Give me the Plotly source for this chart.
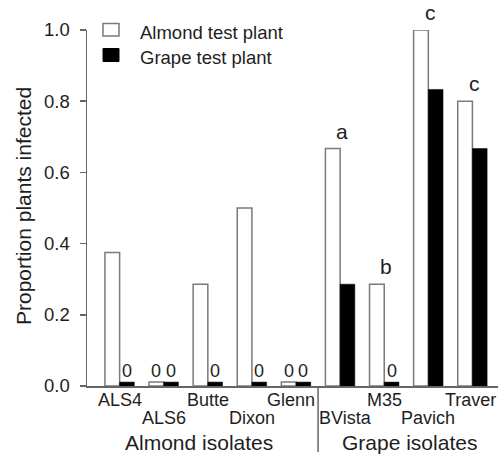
import plotly.graph_objects as go

# ---- data ----
categories = ['ALS4', 'ALS6', 'Butte', 'Dixon', 'Glenn', 'BVista', 'M35', 'Pavich', 'Traver']
almond_values = [0.375, 0.0, 0.286, 0.5, 0.0, 0.667, 0.286, 1.0, 0.8]
grape_values = [0.0, 0.0, 0.0, 0.0, 0.0, 0.286, 0.0, 0.833, 0.667]
sig_letters = ['', '', '', '', '', 'a', 'b', 'c', 'c']
group_names = ['Almond isolates', 'Grape isolates']
series_names = ['Almond test plant', 'Grape test plant']
y_ticks = [0.0, 0.2, 0.4, 0.6, 0.8, 1.0]
y_title = 'Proportion plants infected'

# ---- style / geometry ----
W, H = 498, 454
ML, MR, MT, MB = 87, 0, 30, 68
PW, PH = W - ML - MR, H - MT - MB
FONT = 'Liberation Sans, Arial, sans-serif'
TXT = '#1e1e1e'
AX = '#666666'
OUTLINE = '#7a7a7a'
ZERO_STUB = 0.011          # visible stub height for zero-valued bars
label_xshift = [0, 0, 0, 0, -5, 5, 0, 0, -2]
BAR_OFF = 7.35             # px offset of each bar centre from category centre


def px_x(px):
    return (px - ML) / PW


def px_y(py):
    return (H - MB - py) / PH


almond_disp = [v if v > 0 else ZERO_STUB for v in almond_values]
grape_disp = [v if v > 0 else ZERO_STUB for v in grape_values]

fig = go.Figure()
fig.add_trace(go.Bar(
    x=categories, y=almond_disp, name=series_names[0],
    marker=dict(color='white', line=dict(color=OUTLINE, width=1.5)),
    showlegend=False, cliponaxis=False, hoverinfo='skip'))
fig.add_trace(go.Bar(
    x=categories, y=grape_disp, name=series_names[1],
    marker=dict(color='black', line=dict(color='black', width=0.5)),
    showlegend=False, cliponaxis=False, hoverinfo='skip'))

ann = []
# zero labels
for i, c in enumerate(categories):
    for vals, sh in ((almond_values, -BAR_OFF), (grape_values, BAR_OFF)):
        if vals[i] == 0:
            ann.append(dict(x=c, y=ZERO_STUB, xref='x', yref='y', text='0',
                            showarrow=False, xshift=sh, yanchor='bottom', yshift=-1,
                            font=dict(size=18, color=TXT, family=FONT)))
# significance letters
for i, c in enumerate(categories):
    if sig_letters[i]:
        ann.append(dict(x=c, y=almond_values[i], xref='x', yref='y', text=sig_letters[i],
                        showarrow=False, xshift=2, yanchor='bottom', yshift=4,
                        font=dict(size=21, color=TXT, family=FONT)))
# category labels (alternating rows)
for i, c in enumerate(categories):
    row_y = 400 if i % 2 == 0 else 418.5
    ann.append(dict(x=c, y=px_y(row_y), xref='x', yref='paper', text=c,
                    showarrow=False, xshift=label_xshift[i], yanchor='middle',
                    font=dict(size=18, color=TXT, family=FONT)))
# group labels
for name, cx in zip(group_names, (199, 409)):
    ann.append(dict(x=px_x(cx), y=px_y(442), xref='paper', yref='paper', text=name,
                    showarrow=False, xanchor='center', yanchor='middle',
                    font=dict(size=21, color=TXT, family=FONT)))
# y title
ann.append(dict(x=px_x(23), y=px_y(206), xref='paper', yref='paper', text=y_title,
                textangle=-90, showarrow=False, xanchor='center', yanchor='middle',
                font=dict(size=21, color=TXT, family=FONT)))
# legend texts
for name, cy in zip(series_names, (33, 58)):
    ann.append(dict(x=px_x(138), y=px_y(cy), xref='paper', yref='paper', text=name,
                    showarrow=False, xanchor='left', yanchor='middle',
                    font=dict(size=18.5, color=TXT, family=FONT)))

shapes = [
    # legend swatches
    dict(type='rect', xref='paper', yref='paper', x0=px_x(103), x1=px_x(119),
         y0=px_y(36), y1=px_y(23.5), fillcolor='white', line=dict(color=OUTLINE, width=1.5)),
    dict(type='rect', xref='paper', yref='paper', x0=px_x(103), x1=px_x(119),
         y0=px_y(61.5), y1=px_y(48.5), fillcolor='black', line=dict(color='black', width=1)),
    # group separator
    dict(type='line', xref='x', yref='paper', x0=4.5, x1=4.5, y0=0, y1=px_y(452),
         line=dict(color=AX, width=1.5)),
]

fig.update_layout(
    width=W, height=H, autosize=False,
    margin=dict(l=ML, r=MR, t=MT, b=MB),
    paper_bgcolor='white', plot_bgcolor='white',
    barmode='group', bargap=1/3, bargroupgap=0,
    font=dict(family=FONT, color=TXT),
    annotations=ann, shapes=shapes, showlegend=False,
    xaxis=dict(type='category', range=[-0.74, 8.58], showticklabels=False,
               showline=True, linecolor=AX, linewidth=1.5, ticks='',
               showgrid=False, zeroline=False, fixedrange=True),
    yaxis=dict(range=[0, 1], tickvals=y_ticks, ticktext=[f'{t:.1f}' for t in y_ticks],
               ticks='outside', ticklen=6, tickwidth=1.5, tickcolor=AX,
               showline=True, linecolor=AX, linewidth=1.5,
               showgrid=False, zeroline=False, ticklabelstandoff=6,
               tickfont=dict(size=18.5, color=TXT, family=FONT)),
)

fig.write_html('out.html', config={'displayModeBar': False, 'staticPlot': True},
               post_script="document.body.style.margin='0';document.body.style.overflow='hidden';")
